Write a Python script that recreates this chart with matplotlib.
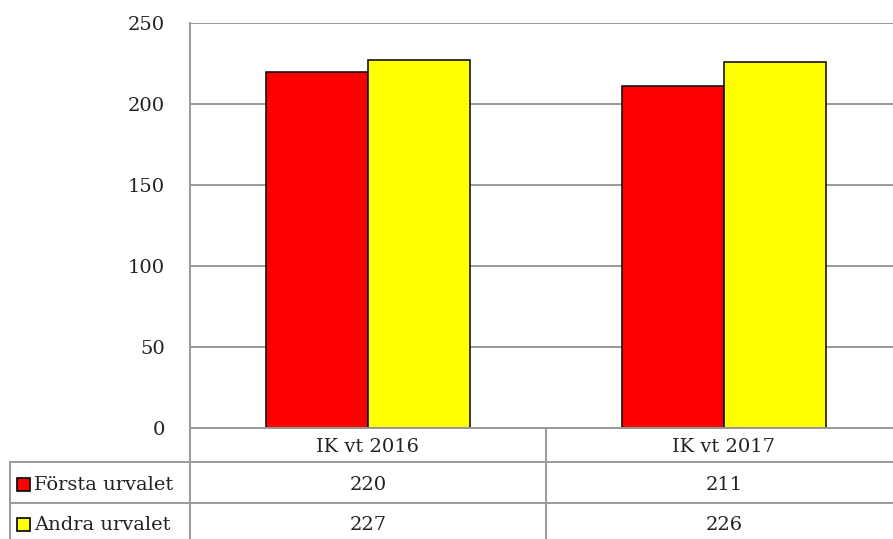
import matplotlib
matplotlib.use('Agg')
import matplotlib.pyplot as plt
from matplotlib.patches import Rectangle

categories = ['IK vt 2016', 'IK vt 2017']
series_names = ['Första urvalet', 'Andra urvalet']
forsta = [220, 211]
andra = [227, 226]
colors = ['#ff0000', '#ffff00']
yticks = [0, 50, 100, 150, 200, 250]

W, H = 893, 539
grid = '#999999'
font = 'DejaVu Serif'
fs = 14

fig = plt.figure(figsize=(W / 100, H / 100), dpi=100)

# plot area in pixel terms: x 190..902, y 23..428
ax = fig.add_axes([190 / W, (H - 428) / H, 712 / W, 405 / H])
x = range(len(categories))
bw = 0.287
ax.bar([i - bw / 2 for i in x], forsta, bw, color=colors[0], edgecolor='black', linewidth=1.1, zorder=3)
ax.bar([i + bw / 2 for i in x], andra, bw, color=colors[1], edgecolor='black', linewidth=1.1, zorder=3)
ax.set_xlim(-0.5, len(categories) - 0.5)
ax.set_ylim(0, 250)
ax.set_yticks(yticks)
ax.set_yticklabels([str(v) for v in yticks], fontfamily=font, fontsize=fs, color='#222222')
ax.tick_params(axis='y', length=0, pad=18)
ax.set_xticks([])
ax.yaxis.grid(True, color=grid, linewidth=1.4, zorder=0)
for s in ax.spines.values():
    s.set_visible(False)

# data table drawn in pixel coordinates on an overlay axes
tab = fig.add_axes([0, 0, 1, 1], facecolor='none')
tab.set_xlim(0, W)
tab.set_ylim(H, 0)
tab.axis('off')
lk = dict(color=grid, linewidth=1.4)
tab.plot([190, 190], [23, H], **lk)
tab.plot([190, W], [428, 428], **lk)
tab.plot([10, W], [462, 462], **lk)
tab.plot([10, W], [503, 503], **lk)
tab.plot([10, 10], [462, H], **lk)
tab.plot([546, 546], [428, H], **lk)

col_c = [368, 724]
row_c = [447, 485, 525]
tk = dict(fontfamily=font, fontsize=fs, color='#222222', ha='center', va='center')
for i, c in enumerate(categories):
    tab.text(col_c[i], row_c[0], c, **tk)
for r, (name, vals) in enumerate(zip(series_names, [forsta, andra])):
    y = row_c[r + 1]
    tab.add_patch(Rectangle((17, y - 7), 13, 13, facecolor=colors[r], edgecolor='black', linewidth=1.2))
    tab.text(34, y, name, fontfamily=font, fontsize=fs, color='#222222', ha='left', va='center')
    for i, v in enumerate(vals):
        tab.text(col_c[i], y, str(v), **tk)

fig.savefig('out.png', dpi=100)
